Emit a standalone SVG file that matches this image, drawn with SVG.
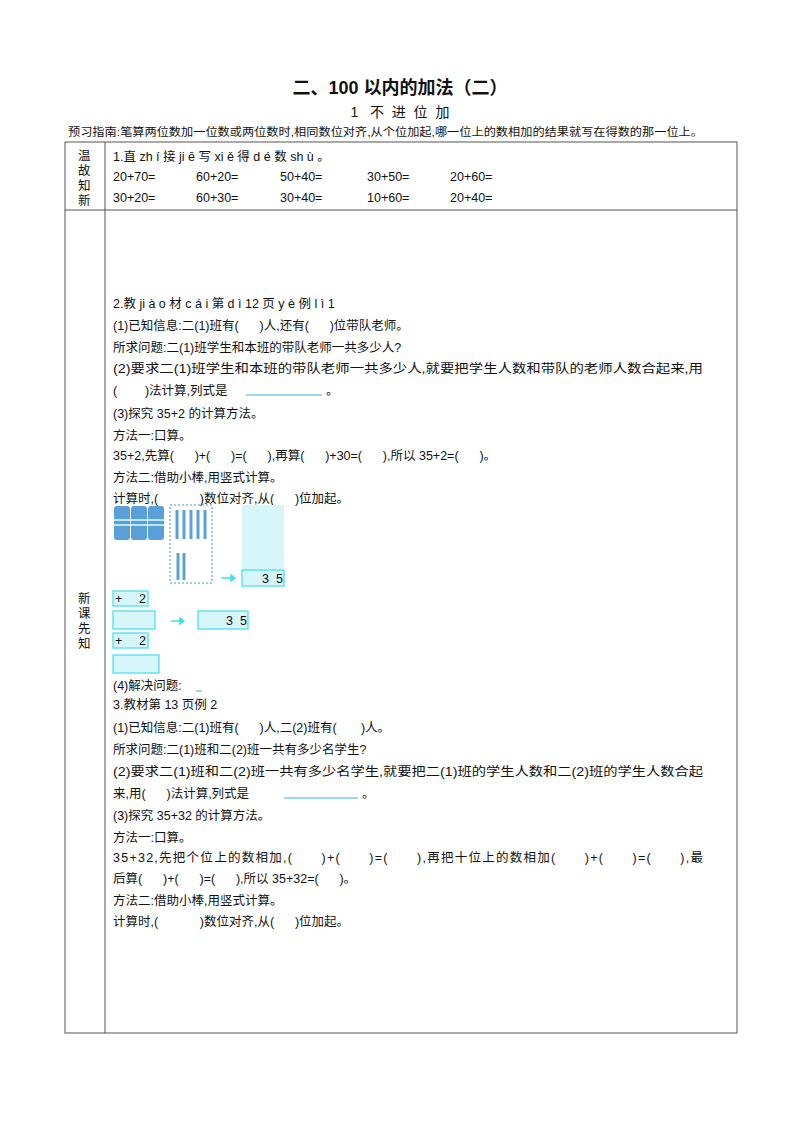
<svg xmlns="http://www.w3.org/2000/svg" width="800" height="1132" viewBox="0 0 800 1132">
<style>
text{font-family:"Liberation Sans","Noto Sans CJK SC",sans-serif;font-size:12.5px;fill:#111;white-space:pre}
.t{font-size:18px;font-weight:bold}
.s{font-size:11px}
.b{fill:#d6f6fa;stroke:#3fe0f0;stroke-width:1.2}
.u{stroke:#3ab0e0;stroke-width:1}
.stick{stroke:#5aa0d8;stroke-width:3}
</style>
<rect width="800" height="1132" fill="#fff"/>
<text x="400" y="94" text-anchor="middle" class="t">二、100 以内的加法（二）</text>
<text x="400" y="117" text-anchor="middle" style="font-size:14px">1   不  进  位  加</text>
<text x="68" y="136" class="s" textLength="635" lengthAdjust="spacingAndGlyphs">预习指南:笔算两位数加一位数或两位数时,相同数位对齐,从个位加起,哪一位上的数相加的结果就写在得数的那一位上。</text>
<g fill="none" stroke="#555" stroke-width="1">
<rect x="65" y="142" width="672" height="891"/>
<line x1="105" y1="142" x2="105" y2="1033"/>
<line x1="65" y1="210" x2="737" y2="210"/>
</g>
<g>
<text x="78" y="160">温</text><text x="78" y="175">故</text><text x="78" y="190">知</text><text x="78" y="205">新</text>
<text x="78" y="603">新</text><text x="78" y="618">课</text><text x="78" y="633">先</text><text x="78" y="648">知</text>
</g>
<text x="113" y="161">1.直 zh í 接 ji ē 写 xi ě 得 d é 数 sh ù 。</text>
<g>
<text x="113" y="181">20+70=</text><text x="196" y="181">60+20=</text><text x="280" y="181">50+40=</text><text x="367" y="181">30+50=</text><text x="450" y="181">20+60=</text>
<text x="113" y="202">30+20=</text><text x="196" y="202">60+30=</text><text x="280" y="202">30+40=</text><text x="367" y="202">10+60=</text><text x="450" y="202">20+40=</text>
</g>
<text x="113" y="308">2.教 ji à o 材 c á i 第 d ì 12 页 y è 例 l ì 1</text>
<text x="113" y="330">(1)已知信息:二(1)班有(      )人,还有(      )位带队老师。</text>
<text x="113" y="352">所求问题:二(1)班学生和本班的带队老师一共多少人?</text>
<text x="113" y="373" textLength="590" lengthAdjust="spacingAndGlyphs">(2)要求二(1)班学生和本班的带队老师一共多少人,就要把学生人数和带队的老师人数合起来,用</text>
<text x="113" y="395">(        )法计算,列式是</text>
<text x="326" y="395">。</text>
<line class="u" x1="246" y1="395" x2="322" y2="395"/>
<text x="113" y="418">(3)探究 35+2 的计算方法。</text>
<text x="113" y="440">方法一:口算。</text>
<text x="113" y="460">35+2,先算(      )+(      )=(      ),再算(      )+30=(      ),所以 35+2=(      )。</text>
<text x="113" y="482">方法二:借助小棒,用竖式计算。</text>
<text x="113" y="503">计算时,(            )数位对齐,从(      )位加起。</text>
<g fill="#5aa0d8">
<rect x="114" y="506" width="16" height="34" rx="3"/><rect x="131" y="506" width="16" height="34" rx="3"/><rect x="148" y="506" width="16" height="34" rx="3"/>
</g>
<g stroke="#dff" stroke-width="1.5"><line x1="114" y1="520" x2="164" y2="520"/><line x1="114" y1="525" x2="164" y2="525"/></g>
<rect x="170" y="505" width="42" height="78" fill="none" stroke="#3a9ad0" stroke-dasharray="2,2"/>
<g class="stick">
<line x1="177" y1="510" x2="177" y2="539"/><line x1="184" y1="510" x2="184" y2="539"/><line x1="191" y1="510" x2="191" y2="539"/><line x1="198" y1="510" x2="198" y2="539"/><line x1="205" y1="510" x2="205" y2="539"/>
<line x1="178" y1="553" x2="178" y2="580"/><line x1="184" y1="553" x2="184" y2="580"/>
</g>
<rect x="242" y="505" width="42" height="66" fill="#d6f6fa"/>
<rect class="b" x="242" y="570" width="42" height="16"/>
<text x="262" y="583">3  5</text>
<g stroke="#3fe0f0" stroke-width="1.5" fill="#3fe0f0"><line x1="221" y1="578" x2="232" y2="578"/><path d="M235 578l-4-3v6z"/>
<line x1="171" y1="621" x2="181" y2="621"/><path d="M184 621l-4-3v6z"/></g>
<rect class="b" x="113" y="591" width="35" height="15"/><text x="115" y="603">+</text><text x="139" y="603">2</text>
<rect class="b" x="113" y="611" width="42" height="18"/>
<rect class="b" x="198" y="611" width="50" height="18"/><text x="226" y="625">3  5</text>
<rect class="b" x="113" y="633" width="35" height="15"/><text x="115" y="645">+</text><text x="139" y="645">2</text>
<rect class="b" x="113" y="655" width="46" height="18"/>
<text x="113" y="690">(4)解决问题:</text>
<line class="u" x1="196" y1="691" x2="202" y2="691"/>
<text x="113" y="709">3.教材第 13 页例 2</text>
<text x="113" y="732">(1)已知信息:二(1)班有(      )人,二(2)班有(       )人。</text>
<text x="113" y="754">所求问题:二(1)班和二(2)班一共有多少名学生?</text>
<text x="113" y="776" textLength="590" lengthAdjust="spacingAndGlyphs">(2)要求二(1)班和二(2)班一共有多少名学生,就要把二(1)班的学生人数和二(2)班的学生人数合起</text>
<text x="113" y="798">来,用(      )法计算,列式是</text>
<text x="362" y="798">。</text>
<line class="u" x1="284" y1="798" x2="358" y2="798"/>
<text x="113" y="820">(3)探究 35+32 的计算方法。</text>
<text x="113" y="842">方法一:口算。</text>
<text x="113" y="862" textLength="590" lengthAdjust="spacing">35+32,先把个位上的数相加,(      )+(      )=(      ),再把十位上的数相加(      )+(      )=(      ),最</text>
<text x="113" y="883">后算(      )+(      )=(      ),所以 35+32=(      )。</text>
<text x="113" y="905">方法二:借助小棒,用竖式计算。</text>
<text x="113" y="926">计算时,(            )数位对齐,从(      )位加起。</text>
</svg>
